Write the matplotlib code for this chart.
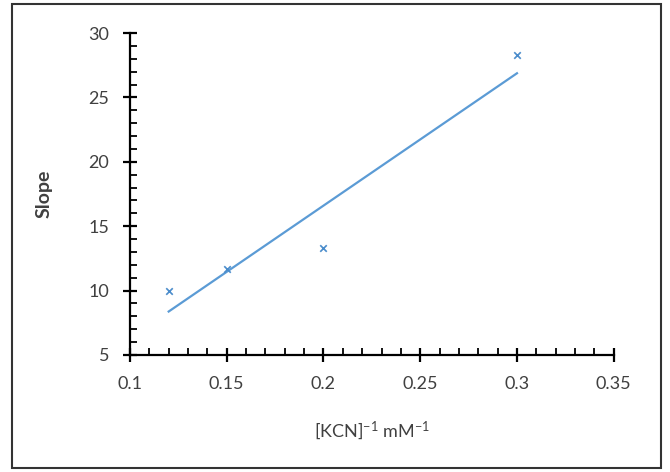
import numpy as np
import matplotlib.pyplot as plt
from matplotlib.patches import Rectangle
from matplotlib.ticker import MultipleLocator

plt.rcParams['font.family'] = ['Lato', 'DejaVu Sans']
plt.rcParams['mathtext.fontset'] = 'custom'
plt.rcParams['mathtext.rm'] = 'Lato'
plt.rcParams['mathtext.default'] = 'regular'

# data
inv_kcn = [0.12, 0.15, 0.2, 0.3]
slope_vals = [10.0, 11.7, 13.3, 28.3]

x_ticks = [0.1, 0.15, 0.2, 0.25, 0.3, 0.35]
x_tick_labels = ['0.1', '0.15', '0.2', '0.25', '0.3', '0.35']

blue = '#5B9BD5'

fig = plt.figure(figsize=(6.7, 4.72), dpi=100)
ax = fig.add_axes([0.194, 0.248, 0.722, 0.682])

ax.scatter(inv_kcn, slope_vals, marker='x', s=22, color='#4A8CCB', linewidths=1.2, zorder=3)

# linear trendline
k, b = np.polyfit(inv_kcn, slope_vals, 1)
xs = np.array([min(inv_kcn), max(inv_kcn)])
ax.plot(xs, k * xs + b, color=blue, lw=1.6)

ax.set_xlim(0.1, 0.35)
ax.set_ylim(5, 30)
ax.set_xticks(x_ticks)
ax.set_xticklabels(x_tick_labels)
ax.xaxis.set_minor_locator(MultipleLocator(0.01))
ax.yaxis.set_major_locator(MultipleLocator(5))
ax.yaxis.set_minor_locator(MultipleLocator(1))

for s in ['top', 'right']:
    ax.spines[s].set_visible(False)
for s in ['left', 'bottom']:
    ax.spines[s].set_linewidth(1.6)
    ax.spines[s].set_color('black')

ax.tick_params(which='major', direction='inout', length=10, width=1.6,
               labelsize=13, labelcolor='#404040', pad=10)
ax.tick_params(which='minor', direction='in', length=5, width=1.3)

ax.set_xlabel('[KCN]$^{-1}$ mM$^{-1}$', fontsize=13, color='#404040', labelpad=20)
ax.set_ylabel('Slope', fontsize=14, fontweight='bold', color='#404040', labelpad=26)

# outer frame
fig.patches.append(Rectangle((12 / 670, 4 / 472), 649 / 670, 464 / 472,
                             transform=fig.transFigure, fill=False,
                             edgecolor='#333333', lw=1.5))

fig.savefig('out.png', dpi=100)
